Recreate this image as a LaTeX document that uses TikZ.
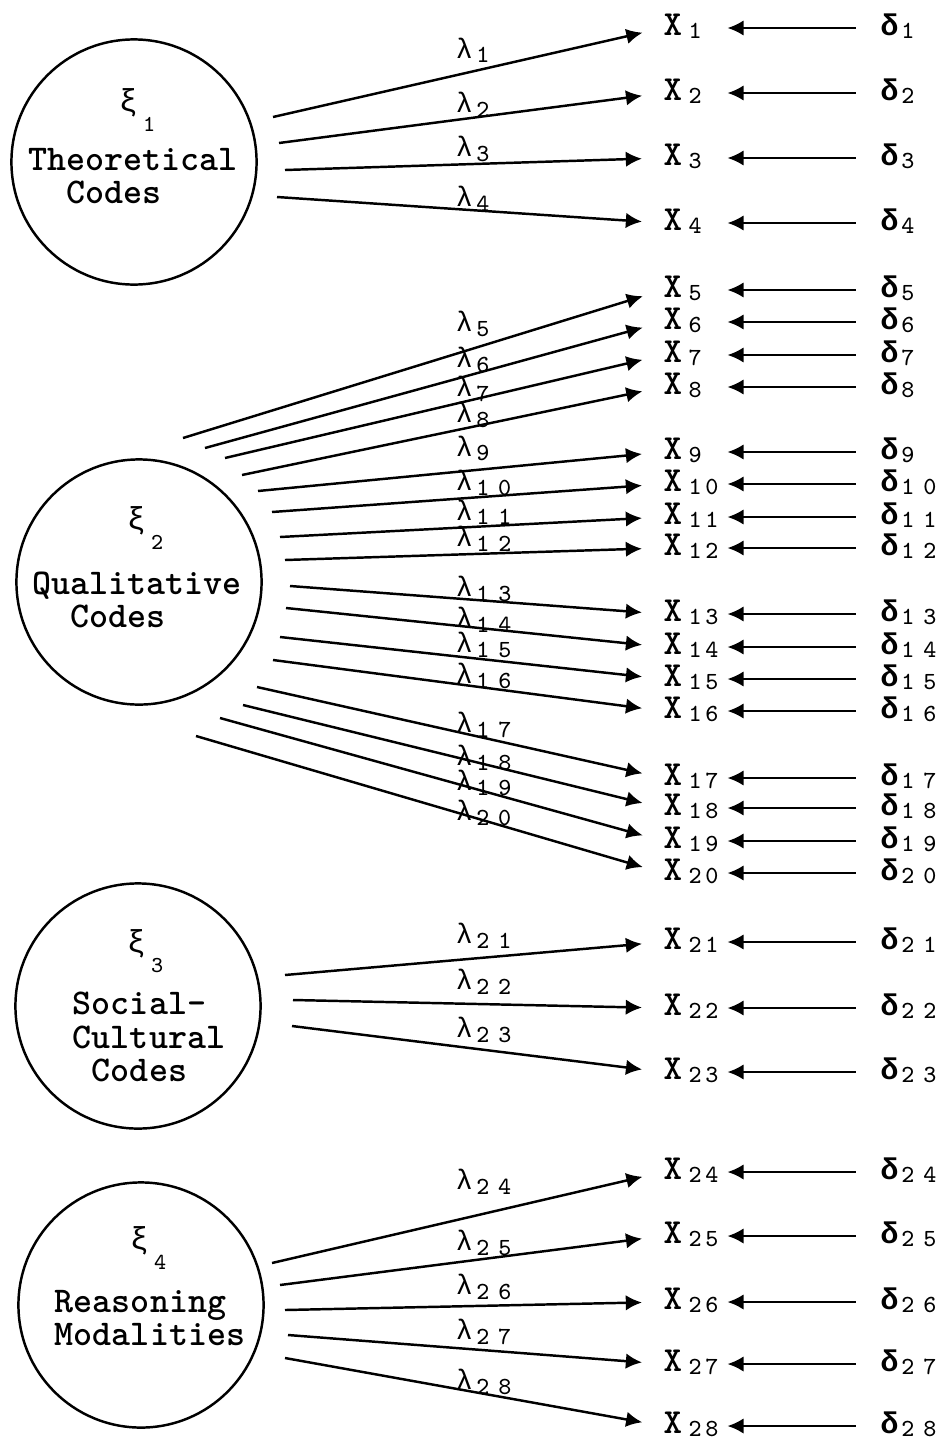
\documentclass[tikz,border=0pt]{standalone}
\usepackage{fontspec}
\newfontfamily\greek{Liberation Mono}
\usetikzlibrary{arrows.meta}

% index digits with a gap between them (#1 gap, #2 number)
\newcommand{\idx}[2]{\ifnum#2>9 \the\numexpr(#2-5)/10\relax\kern#1\the\numexpr#2-10*((#2-5)/10)\relax\else#2\fi}
% indicator, error, loading and factor labels
\newcommand{\Xlab}[1]{{\fontsize{10}{10}\selectfont\bfseries X}\kern1.8pt\raisebox{-0.9pt}{\fontsize{7}{7}\selectfont\idx{1.1pt}{#1}}}
\newcommand{\dlab}[1]{{\greek\fontsize{8.5}{8.5}\selectfont\bfseries δ}\kern0.8pt\raisebox{-0.9pt}{\fontsize{7}{7}\selectfont\idx{2.5pt}{#1}}}
\newcommand{\llab}[1]{{\greek\fontsize{8}{8}\selectfont λ}\kern1pt\raisebox{-1.4pt}{\fontsize{7}{7}\selectfont\idx{2.5pt}{#1}}}
\newcommand{\xilab}[1]{{\greek\fontsize{9}{9}\selectfont ξ}\kern1.5pt\raisebox{-5.5pt}{\fontsize{6.5}{6.5}\selectfont #1}}

\begin{document}
\begin{tikzpicture}[x=0.01cm, y=-0.01cm, font=\ttfamily,
    latent/.style={draw, circle, line width=0.7pt, minimum size=2.45cm, inner sep=0},
    codes/.style={align=left, font=\ttfamily\fontsize{10.3}{9.5}\selectfont\bfseries, inner sep=0},
    obs/.style={anchor=west, inner sep=0, text height=4.3pt, text depth=0pt, text width=0.63cm},
    err/.style={anchor=west, inner sep=0, text height=4.3pt, text depth=0pt},
    load/.style={line width=0.7pt, -{Latex[length=4.6pt,width=4.4pt]}, shorten >=2.1mm},
    erra/.style={line width=0.7pt, -{Latex[length=4.6pt,width=4.4pt]}, shorten <=2.4mm},
    lam/.style={anchor=south west, inner sep=0.5pt}]
    \useasboundingbox (0,0) rectangle (939,1439);

    % Latent factors
    \node[latent] (c1) at (134,162) {};
    \node[inner sep=0] (k1) at (137,110) {\xilab{1}};
    \node[codes] (t1) at (133,176) {Theoretical\\\hspace*{1.05em}Codes};

    \node[latent] (c2) at (139,582) {};
    \node[inner sep=0] (k2) at (145,528) {\xilab{2}};
    \node[codes] (t2) at (137,600) {Qualitative\\\hspace*{1.05em}Codes};

    \node[latent] (c3) at (138,1006) {};
    \node[inner sep=0] (k3) at (145,951) {\xilab{3}};
    \node[codes] (t3) at (149,1037) {Social-\\Cultural\\\hspace*{0.525em}Codes};

    \node[latent] (c4) at (141,1305) {};
    \node[inner sep=0] (k4) at (148,1248) {\xilab{4}};
    \node[codes] (t4) at (150,1318) {Reasoning\\Modalities};

    % Indicators, loadings and errors (\up lifts the loading label)
    \foreach \i/\y/\sx/\sy/\up in {1/28/273/117/10, 2/93/279/143/0, 3/158/285/170/0, 4/223/277/197/-6,
        5/290/183/438/15, 6/322/205/448/4, 7/355/225/458/0, 8/387/242/475/0,
        9/452/258/491/8, 10/484/272/512/0, 11/517/280/537/0, 12/548/285/560/0,
        13/614/290/586/-6, 14/647/286/608/-10, 15/679/280/637/-5, 16/711/273/660/-8,
        17/778/257/687/-10, 18/808/243/705/-17, 19/841/220/718/-16, 20/873/196/736/-17,
        21/942/285/975/9, 22/1008/293/1000/6, 23/1072/292/1026/0,
        24/1172/272/1263/23, 25/1236/280/1285/4, 26/1302/285/1310/4, 27/1364/288/1335/0, 28/1426/285/1358/-9} {
        \node[obs] (x\i) at (663,\y) {\Xlab{\i}};
        \node[err] (d\i) at (880,\y) {\dlab{\i}};
        \coordinate (s\i) at (\sx,\sy);
        \pgfmathsetmacro{\p}{(453-\sx)/(663-\sx)}
        \draw[load] (s\i) -- node[lam, pos=\p, yshift=\up*0.01cm] {\llab{\i}} (x\i.west);
        \draw[erra] (d\i.west) -- (x\i.east);
    }
\end{tikzpicture}
\end{document}
